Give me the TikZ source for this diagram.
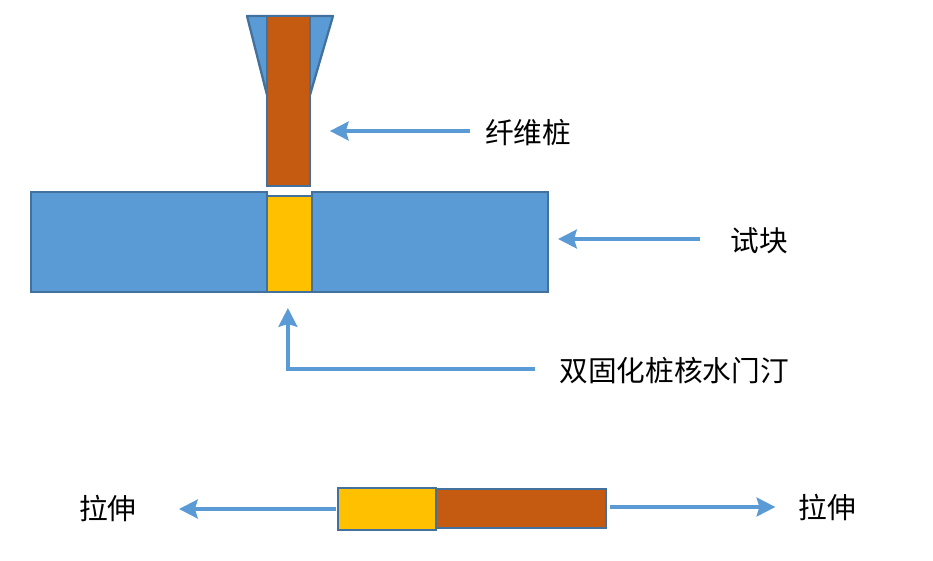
\documentclass[tikz,border=0pt]{standalone}
\usepackage{fontspec}
\usepackage{xcolor}
\setmainfont{Noto Sans CJK SC}
\usetikzlibrary{arrows.meta,positioning,calc}
\definecolor{blockblue}{HTML}{5B9BD5}
\definecolor{edgeblue}{HTML}{41719C}
\definecolor{pileorange}{HTML}{C55A11}
\definecolor{coregold}{HTML}{FFC000}

\begin{document}
\begin{tikzpicture}[
  x=0.75pt, y=-0.75pt,
  part/.style={draw=edgeblue, line width=1.7pt, rectangle, inner sep=0pt, outer sep=0pt},
  block/.style={part, fill=blockblue, minimum width=177pt, minimum height=75pt},
  lbl/.style={inner sep=0pt, font=\fontsize{21.5}{21.5}\selectfont},
  arr/.style={-{Stealth[length=14pt, width=14pt, inset=2pt]}, blockblue, line width=3.5pt}
]
\useasboundingbox (0,0) rectangle (933,561);

% funnel behind the pile
\draw[draw=edgeblue, line width=1.7pt, line join=round, fill=blockblue]
  (247,16) -- (333,16) -- (310,95) -- (267,95) -- cycle;
\node[part, fill=pileorange, minimum width=32pt, minimum height=127.5pt] (pile) at (288.5,101) {};

% test block with core
\node[block] (blockl) at (149,242) {};
\node[block] (blockr) at (430,242) {};
\node[part, fill=coregold, minimum width=33.5pt, minimum height=72pt] (core) at (289.5,244) {};

% tensile specimen
\node[part, fill=coregold, minimum width=73.5pt, minimum height=31.5pt] (score) at (387,509) {};
\node[part, fill=pileorange, minimum width=127.5pt, minimum height=29pt] (spile) at (521,508.5) {};

% labels
\node[lbl] (lblpile) at (528,133) {纤维桩};
\node[lbl] (lblblock) at (759,241) {试块};
\node[lbl] (lblcore) at (674,371) {双固化桩核水门汀};
\node[lbl] (lblleft) at (108,508) {拉伸};
\node[lbl] (lblright) at (827,507) {拉伸};

\draw[arr, shorten <=11pt, shorten >=15pt] ([yshift=1.5pt]lblpile.west) -- ([yshift=1.5pt]pile.east |- lblpile.west);
\draw[arr, shorten <=22.5pt, shorten >=7.5pt] ([yshift=1.5pt]lblblock.west) -- ([yshift=1.5pt]blockr.east |- lblblock.west);
\draw[arr, shorten <=18pt, shorten >=12pt] ([yshift=1.5pt]lblcore.west) -| ([xshift=-1.2pt]core.south);
\draw[arr, shorten <=1.5pt, shorten >=31.5pt] ([yshift=-0.75pt]score.west |- lblleft.east) -- ([yshift=-0.75pt]lblleft.east);
\draw[arr, shorten <=3pt, shorten >=17pt] (spile.east |- lblright.west) -- (lblright.west);
\end{tikzpicture}
\end{document}
